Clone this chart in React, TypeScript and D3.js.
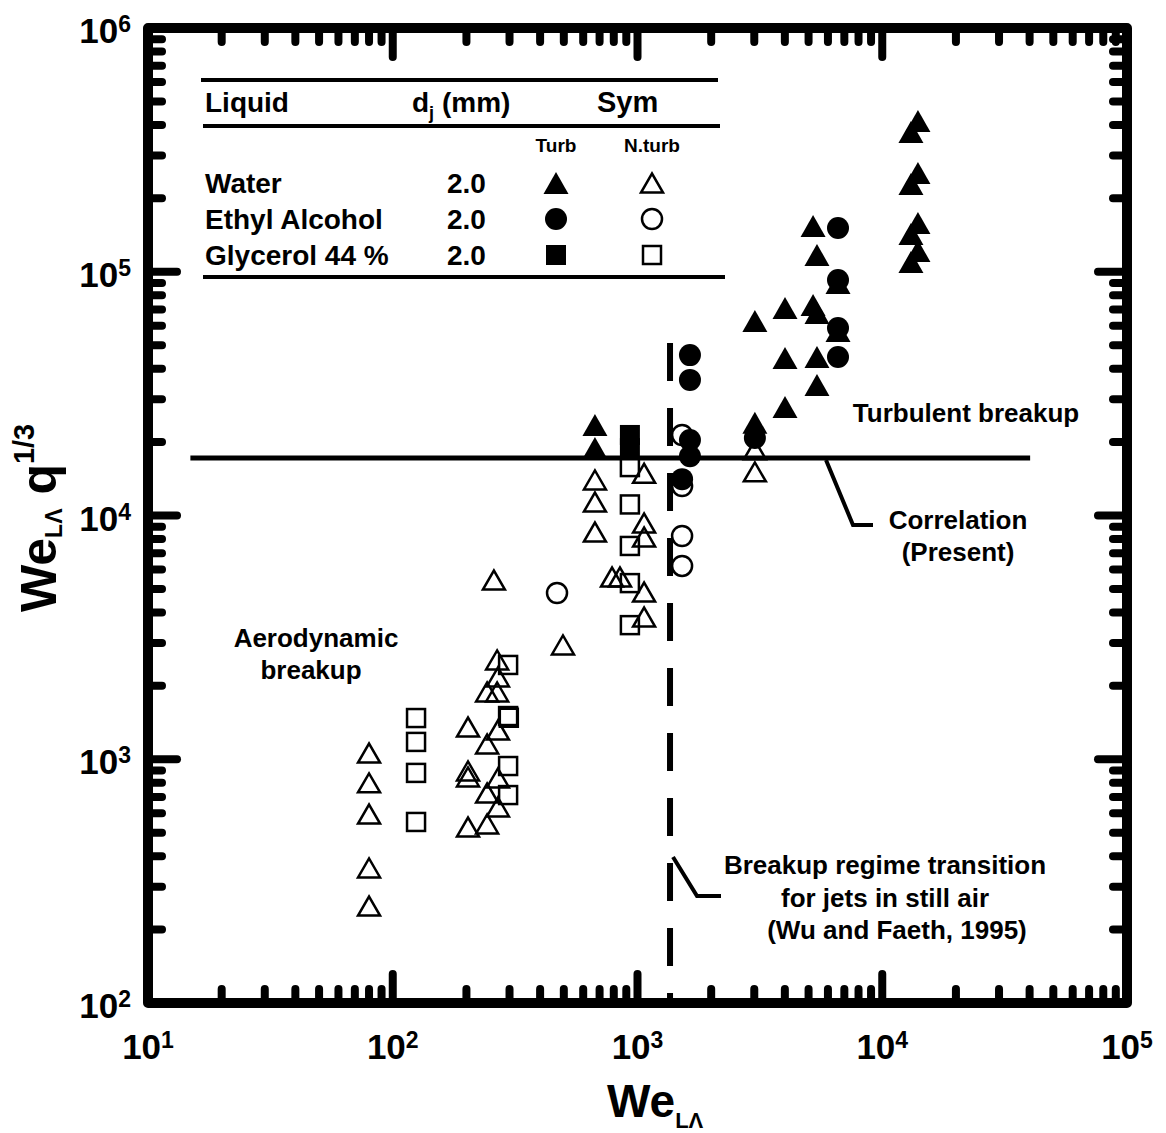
import React from 'react';
import * as d3 from 'd3';

const W = 1166;
const H = 1133;
const FONT = '"Liberation Sans", Arial, Helvetica, sans-serif';

// data: [We_LΛ, We_LΛ q^1/3]
const waterTurb: [number, number][] = [
  [670, 2.35e4], [670, 1.89e4],
  [3017, 2.4e4], [3017, 6.28e4],
  [4006, 7.1e4], [4006, 4.43e4], [4006, 2.79e4],
  [5216, 1.541e5], [5411, 1.172e5], [5216, 7.31e4], [5411, 6.77e4], [5411, 4.47e4], [5411, 3.43e4],
  [6595, 8.99e4], [6595, 5.71e4],
  [13990, 4.15e5], [13100, 3.74e5], [13990, 2.54e5], [13100, 2.29e5],
  [13990, 1.585e5], [13100, 1.429e5], [13990, 1.217e5], [13100, 1.096e5],
];
const waterNonTurb: [number, number][] = [
  [80, 1060], [80, 800], [80, 596], [80, 358], [80, 250],
  [203, 1355], [203, 895], [203, 846], [203, 527],
  [243, 1888], [243, 1155], [243, 727], [243, 543],
  [267, 2555], [269, 2175], [267, 1888], [269, 1318], [269, 838], [269, 637],
  [259, 5436], [496, 2943],
  [670, 1.4e4], [670, 1.135e4], [670, 8550],
  [1064, 1.49e4], [1064, 9310], [1064, 8160], [1064, 4850], [1064, 3830],
  [787, 5590], [848, 5590],
  [3017, 1.86e4], [3017, 1.51e4],
];
const alcoholTurb: [number, number][] = [
  [1638, 4.55e4], [1638, 3.6e4], [1638, 2.04e4], [1638, 1.75e4], [1521, 1.41e4],
  [3017, 2.08e4],
  [6595, 1.511e5], [6595, 9.25e4], [6595, 5.88e4], [6595, 4.47e4],
];
const alcoholNonTurb: [number, number][] = [
  [469, 4810], [1521, 2.14e4], [1521, 1.32e4], [1521, 8240], [1521, 6210],
];
const glycerolTurb: [number, number][] = [[931, 2.14e4], [931, 1.89e4]];
const glycerolNonTurb: [number, number][] = [
  [124.5, 1476], [124.5, 1178], [124.5, 879], [124.5, 553],
  [296, 2437], [296, 1504], [298, 1480], [296, 938], [296, 713],
  [931, 1.58e4], [931, 1.11e4], [931, 7500], [931, 5280], [931, 3550],
];

const correlationValue = 1.72e4;
const correlationRange = [14.9, 4.02e4];
const transitionValue = 1358;
const transitionTop = 5.1e4;

const xTickExps = [1, 2, 3, 4, 5];
const yTickExps = [2, 3, 4, 5, 6];

const legendRows = [
  { name: 'Water', dj: '2.0', shape: 'tri' },
  { name: 'Ethyl Alcohol', dj: '2.0', shape: 'circle' },
  { name: 'Glycerol 44 %', dj: '2.0', shape: 'square' },
];

type Shape = 'tri' | 'circle' | 'square';

function Marker({ shape, filled, cx, cy }: { shape: Shape; filled: boolean; cx: number; cy: number }) {
  const paint = filled
    ? { fill: '#000', stroke: 'none' }
    : { fill: 'none', stroke: '#000', strokeWidth: 2.5 };
  if (shape === 'tri') {
    const hw = filled ? 12.5 : 11;
    const hh = filled ? 11 : 9.5;
    return <path d={`M${cx - hw},${cy + hh}L${cx + hw},${cy + hh}L${cx},${cy - hh}Z`} {...paint} />;
  }
  if (shape === 'circle') {
    return <circle cx={cx} cy={cy} r={filled ? 11 : 10} {...paint} />;
  }
  const s = filled ? 20 : 18;
  return <rect x={cx - s / 2} y={cy - s / 2} width={s} height={s} {...paint} />;
}

export default function App() {
  const x = d3.scaleLog().domain([10, 1e5]).range([148, 1127]);
  const y = d3.scaleLog().domain([100, 1e6]).range([1003, 28]);
  const [x0, x1] = x.range();
  const [y0, y1] = y.range();

  const isMajor = (v: number) => Math.abs(Math.log10(v) - Math.round(Math.log10(v))) < 1e-9;
  const xt = x.ticks();
  const yt = y.ticks();
  const tickW = 8;
  const minorLen = 14;
  const majorLen = 29;

  const series: { data: [number, number][]; shape: Shape; filled: boolean }[] = [
    { data: waterNonTurb, shape: 'tri', filled: false },
    { data: alcoholNonTurb, shape: 'circle', filled: false },
    { data: glycerolNonTurb, shape: 'square', filled: false },
    { data: waterTurb, shape: 'tri', filled: true },
    { data: alcoholTurb, shape: 'circle', filled: true },
    { data: glycerolTurb, shape: 'square', filled: true },
  ];

  const txt = { fontFamily: FONT, fontWeight: 700, fill: '#000' } as const;

  return (
    <svg width={W} height={H} style={{ position: 'absolute', left: 0, top: 0, background: '#fff' }}>
      <rect width={W} height={H} fill="#fff" />

      {/* ticks */}
      <g stroke="#000" strokeWidth={tickW} strokeLinecap="round">
        {xt.map((v, i) => {
          const L = isMajor(v) ? majorLen : minorLen;
          const px = x(v);
          return (
            <g key={'x' + i}>
              <line x1={px} x2={px} y1={y0} y2={y0 - L} />
              <line x1={px} x2={px} y1={y1} y2={y1 + L} />
            </g>
          );
        })}
        {yt.map((v, i) => {
          const L = isMajor(v) ? majorLen : minorLen;
          const py = y(v);
          return (
            <g key={'y' + i}>
              <line x1={x0} x2={x0 + L} y1={py} y2={py} />
              <line x1={x1} x2={x1 - L} y1={py} y2={py} />
            </g>
          );
        })}
      </g>
      <rect x={x0} y={y1} width={x1 - x0} height={y0 - y1} fill="none" stroke="#000" strokeWidth={10} strokeLinejoin="round" />

      {/* tick labels */}
      {xTickExps.map((e) => (
        <text key={'xl' + e} x={x(Math.pow(10, e))} y={1059} textAnchor="middle" {...txt} fontSize={35}>
          10<tspan fontSize={23} dy={-11}>{e}</tspan>
        </text>
      ))}
      {yTickExps.map((e) => (
        <text key={'yl' + e} x={131} y={y(Math.pow(10, e)) + 15} textAnchor="end" {...txt} fontSize={35}>
          10<tspan fontSize={23} dy={-11}>{e}</tspan>
        </text>
      ))}

      {/* axis titles */}
      <text x={607} y={1117} {...txt} fontSize={46}>
        We<tspan fontSize={22} dy={11}>LΛ</tspan>
      </text>
      <text transform="translate(56,612) rotate(-90)" {...txt} fontSize={50}>
        We<tspan fontSize={23} dy={6}>LΛ</tspan>
        <tspan dy={-6}> q</tspan>
        <tspan fontSize={29} dy={-22}>1/3</tspan>
      </text>

      {/* correlation and transition lines */}
      <line x1={x(correlationRange[0])} x2={x(correlationRange[1])} y1={y(correlationValue)} y2={y(correlationValue)} stroke="#000" strokeWidth={5} />
      <line x1={x(transitionValue)} x2={x(transitionValue)} y1={y(transitionTop)} y2={y0} stroke="#000" strokeWidth={6} strokeDasharray="38 27" />

      {/* data */}
      {series.map((s, si) => (
        <g key={'s' + si}>
          {s.data.map((d, i) => (
            <Marker key={i} shape={s.shape} filled={s.filled} cx={x(d[0])} cy={y(d[1])} />
          ))}
        </g>
      ))}

      {/* annotations */}
      <text x={966} y={422} textAnchor="middle" {...txt} fontSize={26}>Turbulent breakup</text>
      <polyline points="826,460 853,525 873,525" fill="none" stroke="#000" strokeWidth={4} />
      <text x={958} y={529} textAnchor="middle" {...txt} fontSize={26}>Correlation</text>
      <text x={958} y={561} textAnchor="middle" {...txt} fontSize={26}>(Present)</text>
      <text x={316} y={647} textAnchor="middle" {...txt} fontSize={26}>Aerodynamic</text>
      <text x={311} y={679} textAnchor="middle" {...txt} fontSize={26}>breakup</text>
      <polyline points="673,857 697,896 721,896" fill="none" stroke="#000" strokeWidth={4} />
      <text x={885} y={874} textAnchor="middle" {...txt} fontSize={26}>Breakup regime transition</text>
      <text x={885} y={907} textAnchor="middle" {...txt} fontSize={26}>for jets in still air</text>
      <text x={897} y={939} textAnchor="middle" {...txt} fontSize={26}>(Wu and Faeth, 1995)</text>

      {/* legend */}
      <g stroke="#000" strokeWidth={4}>
        <line x1={201} x2={718} y1={80} y2={80} />
        <line x1={203} x2={720} y1={126} y2={126} />
        <line x1={203} x2={725} y1={277} y2={277} />
      </g>
      <text x={205} y={112} {...txt} fontSize={28}>Liquid</text>
      <text x={412} y={112} {...txt} fontSize={28}>
        d<tspan fontSize={18} dy={7}>j</tspan><tspan dy={-7}> (mm)</tspan>
      </text>
      <text x={597} y={112} {...txt} fontSize={29}>Sym</text>
      <text x={556} y={152} textAnchor="middle" {...txt} fontSize={19}>Turb</text>
      <text x={652} y={152} textAnchor="middle" {...txt} fontSize={19}>N.turb</text>
      {legendRows.map((r, i) => {
        const cy = 183 + i * 36;
        return (
          <g key={r.name}>
            <text x={205} y={cy + 10} {...txt} fontSize={28}>{r.name}</text>
            <text x={447} y={cy + 10} {...txt} fontSize={28}>{r.dj}</text>
            <Marker shape={r.shape as Shape} filled cx={556} cy={cy} />
            <Marker shape={r.shape as Shape} filled={false} cx={652} cy={cy} />
          </g>
        );
      })}
    </svg>
  );
}
